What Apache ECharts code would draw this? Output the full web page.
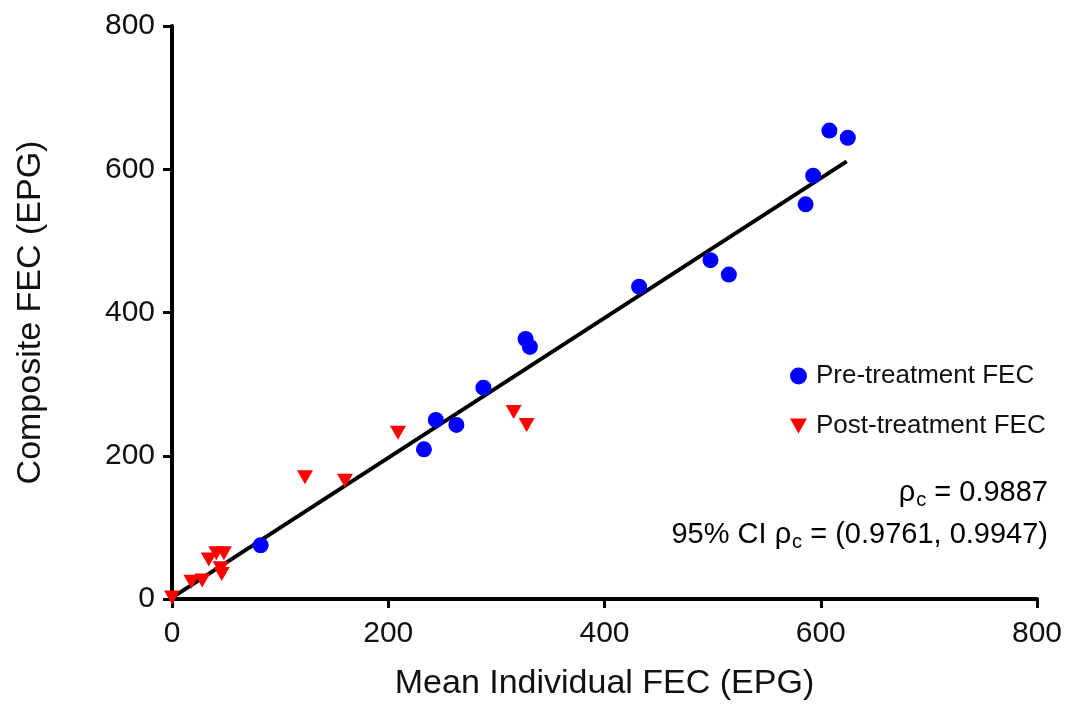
<!DOCTYPE html>
<html lang="en">
<head>
    <meta charset="UTF-8">
    <title>Composite vs Mean Individual FEC</title>
    <script src="https://cdn.jsdelivr.net/npm/echarts@6/dist/echarts.min.js"></script>
    <style>
        html, body { margin: 0; padding: 0; background: #fff; }
        #container { width: 1069px; height: 709px; }
    </style>
</head>
<body>
    <div id="container"></div>
    <script>
        // values: [mean individual FEC, composite FEC]
        var preTreatment = [
            [82, 75], [233, 209], [244, 250], [263, 243], [288, 295],
            [327, 363], [331, 352], [432, 436], [498, 473], [515, 453],
            [586, 551], [593, 591], [608, 654], [625, 644]
        ];
        var postTreatment = [
            [0, 2], [18, 24], [28, 26], [34, 55], [41, 64], [48, 64],
            [45, 43], [46, 35], [123, 170], [160, 165], [209, 232],
            [316, 261], [328, 243]
        ];
        var fitLine = [[0, 2], [624, 611]];
        var xTicks = [0, 200, 400, 600, 800];
        var yTicks = [0, 200, 400, 600, 800];

        var font = '"Liberation Sans", Arial, sans-serif';
        var myChart = echarts.init(document.getElementById('container'));

        function axis(name, ticks, isX) {
            return {
                type: 'value',
                min: ticks[0],
                max: ticks[ticks.length - 1],
                interval: ticks[1] - ticks[0],
                name: name,
                nameLocation: 'middle',
                nameGap: isX ? 68 : 124,
                nameTextStyle: { fontFamily: font, fontSize: 34, color: '#111' },
                axisLine: { show: true, onZero: false, lineStyle: { color: '#000', width: 4 } },
                axisTick: { show: true, inside: false, length: 9, lineStyle: { color: '#000', width: 3 } },
                axisLabel: { margin: isX ? 20 : 17, fontFamily: font, fontSize: 30, color: '#111' },
                splitLine: { show: false }
            };
        }

        // rho_c annotation, one text per line so both are right-aligned
        function rhoText(prefix, value, top) {
            return {
                type: 'text',
                right: 21,
                top: top,
                style: {
                    text: '{r|' + prefix + 'ρ}{s|c}{r| = ' + value + '}',
                    rich: {
                        r: { fontFamily: font, fontSize: 29, color: '#111', lineHeight: 34 },
                        s: { fontFamily: font, fontSize: 20, color: '#111', padding: [14, 0, 0, 1], lineHeight: 34 }
                    }
                }
            };
        }

        var option = {
            backgroundColor: '#fff',
            animation: false,
            grid: { left: 172, right: 32, top: 26, bottom: 110 },
            xAxis: axis('Mean Individual FEC (EPG)', xTicks, true),
            yAxis: axis('Composite FEC (EPG)', yTicks, false),
            legend: {
                orient: 'vertical',
                left: 785,
                top: 358,
                itemWidth: 17,
                itemHeight: 17,
                itemGap: 24,
                textStyle: { fontFamily: font, fontSize: 26, color: '#111', padding: [0, 0, 0, 4] },
                data: [
                    { name: 'Pre-treatment FEC', icon: 'circle' },
                    { name: 'Post-treatment FEC', icon: 'path://M0,0 L16,0 L8,14 Z' }
                ]
            },
            graphic: [
                rhoText('', '0.9887', 476),
                rhoText('95% CI ', '(0.9761, 0.9947)', 518)
            ],
            series: [{
                type: 'line',
                data: fitLine,
                showSymbol: false,
                symbol: 'none',
                lineStyle: { color: '#000', width: 4 },
                z: 1,
                silent: true
            }, {
                name: 'Pre-treatment FEC',
                type: 'scatter',
                data: preTreatment,
                symbol: 'circle',
                symbolSize: 16,
                itemStyle: { color: '#0000ff', opacity: 1 },
                z: 3
            }, {
                name: 'Post-treatment FEC',
                type: 'scatter',
                data: postTreatment,
                symbol: 'triangle',
                symbolRotate: 180,
                symbolSize: [16, 14],
                itemStyle: { color: '#ff0000', opacity: 1 },
                z: 2
            }]
        };

        myChart.setOption(option);
    </script>
</body>
</html>
